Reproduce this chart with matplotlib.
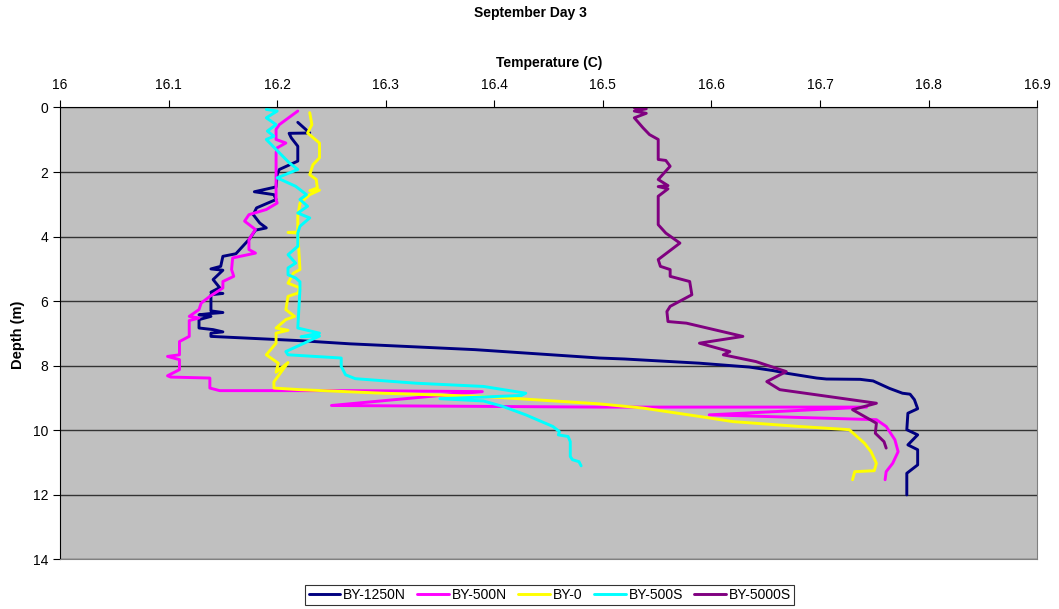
import matplotlib
matplotlib.use("Agg")
import matplotlib.pyplot as plt

plt.rcParams["font.family"] = ["Liberation Sans", "DejaVu Sans"]

# temperature (C) / depth (m) profiles per station
t_1250n = [16.219, 16.230, 16.211, 16.213, 16.219, 16.219, 16.202, 16.200, 16.199, 16.179,
           16.197, 16.199, 16.181, 16.178, 16.184, 16.190, 16.180, 16.174, 16.162, 16.150,
           16.148, 16.139, 16.150, 16.141, 16.147, 16.139, 16.150, 16.139, 16.139, 16.150,
           16.139, 16.128, 16.139, 16.128, 16.128, 16.141, 16.150, 16.139, 16.139, 16.220,
           16.267, 16.382, 16.497, 16.520, 16.589, 16.635, 16.657, 16.669, 16.697, 16.706,
           16.737, 16.749, 16.764, 16.776, 16.783, 16.787, 16.790, 16.781, 16.780, 16.790,
           16.781, 16.790, 16.790, 16.780, 16.780]
d_1250n = [0.46, 0.79, 0.80, 0.94, 1.20, 1.66, 1.92, 2.08, 2.46, 2.61,
           2.70, 2.85, 3.11, 3.32, 3.58, 3.73, 3.80, 4.09, 4.53, 4.61,
           4.92, 5.00, 5.04, 5.33, 5.58, 5.72, 5.76, 5.80, 6.30, 6.35,
           6.38, 6.42, 6.47, 6.57, 6.83, 6.88, 6.95, 6.99, 7.09, 7.22,
           7.32, 7.50, 7.76, 7.79, 7.92, 8.04, 8.15, 8.23, 8.38, 8.41,
           8.42, 8.47, 8.70, 8.85, 8.88, 9.05, 9.33, 9.47, 9.98, 10.14,
           10.45, 10.60, 11.07, 11.33, 12.00]

t_500n = [16.219, 16.202, 16.199, 16.199, 16.208, 16.200, 16.199, 16.199, 16.200, 16.190,
          16.174, 16.170, 16.180, 16.174, 16.174, 16.180, 16.159, 16.158, 16.160, 16.150,
          16.150, 16.138, 16.130, 16.128, 16.119, 16.128, 16.119, 16.119, 16.119, 16.110,
          16.110, 16.099, 16.110, 16.110, 16.099, 16.102, 16.138, 16.138, 16.147, 16.267,
          16.389, 16.250, 16.497, 16.743, 16.598, 16.752, 16.761, 16.769, 16.772, 16.767,
          16.761, 16.760]
d_500n = [0.11, 0.53, 0.68, 0.99, 1.10, 1.25, 1.40, 2.85, 2.96, 3.16,
          3.32, 3.52, 3.78, 4.09, 4.40, 4.51, 4.66, 5.02, 5.23, 5.39,
          5.59, 5.85, 6.06, 6.26, 6.47, 6.52, 6.60, 6.94, 7.09, 7.25,
          7.66, 7.71, 7.81, 8.12, 8.31, 8.35, 8.38, 8.69, 8.77, 8.77,
          8.80, 9.23, 9.28, 9.28, 9.52, 9.67, 9.88, 10.29, 10.66, 11.02,
          11.28, 11.53]

t_0 = [16.230, 16.232, 16.228, 16.239, 16.239, 16.233, 16.230, 16.236, 16.237, 16.230,
       16.239, 16.230, 16.221, 16.219, 16.219, 16.210, 16.219, 16.221, 16.215, 16.210,
       16.221, 16.219, 16.210, 16.208, 16.216, 16.208, 16.199, 16.210, 16.199, 16.199,
       16.190, 16.201, 16.199, 16.210, 16.197, 16.197, 16.221, 16.297, 16.390, 16.497,
       16.537, 16.589, 16.620, 16.681, 16.727, 16.741, 16.747, 16.752, 16.750, 16.732,
       16.730]
d_0 = [0.16, 0.53, 0.79, 1.10, 1.56, 1.77, 2.08, 2.23, 2.49, 2.58,
       2.56, 2.70, 2.96, 3.37, 3.86, 3.87, 3.89, 5.02, 5.13, 5.44,
       5.59, 5.75, 5.85, 6.26, 6.47, 6.57, 6.83, 6.90, 6.99, 7.30,
       7.66, 7.92, 8.20, 7.90, 8.50, 8.69, 8.74, 8.85, 8.95, 9.18,
       9.31, 9.57, 9.73, 9.88, 9.98, 10.40, 10.66, 11.02, 11.25, 11.28,
       11.53]

t_500s = [16.190, 16.200, 16.190, 16.199, 16.191, 16.197, 16.190, 16.199, 16.211, 16.219,
          16.200, 16.217, 16.227, 16.221, 16.228, 16.219, 16.230, 16.221, 16.219, 16.219,
          16.210, 16.217, 16.210, 16.210, 16.217, 16.221, 16.221, 16.219, 16.239, 16.222,
          16.239, 16.208, 16.210, 16.259, 16.259, 16.263, 16.272, 16.328, 16.390, 16.429,
          16.425, 16.350, 16.390, 16.408, 16.429, 16.454, 16.460, 16.459, 16.468, 16.470,
          16.470, 16.472, 16.478, 16.480]
d_500s = [0.06, 0.11, 0.32, 0.53, 0.73, 0.89, 0.99, 1.30, 1.71, 1.92,
          2.18, 2.44, 2.70, 2.85, 3.06, 3.27, 3.42, 3.68, 3.89, 4.30,
          4.56, 4.82, 4.97, 5.18, 5.28, 5.40, 5.64, 6.83, 6.99, 7.10,
          7.08, 7.56, 7.66, 7.76, 8.02, 8.28, 8.40, 8.54, 8.64, 8.85,
          8.92, 9.02, 9.09, 9.26, 9.52, 9.88, 10.04, 10.14, 10.19, 10.35,
          10.81, 10.91, 10.97, 11.10]

t_5000s = [16.529, 16.540, 16.529, 16.540, 16.529, 16.537, 16.543, 16.551, 16.551, 16.558,
           16.562, 16.551, 16.560, 16.551, 16.560, 16.551, 16.551, 16.558, 16.571, 16.551,
           16.553, 16.562, 16.562, 16.580, 16.582, 16.562, 16.559, 16.560, 16.577, 16.629,
           16.589, 16.617, 16.611, 16.641, 16.669, 16.651, 16.663, 16.752, 16.730, 16.752,
           16.751, 16.759, 16.761]
d_5000s = [0.01, 0.04, 0.11, 0.18, 0.32, 0.63, 0.84, 0.99, 1.61, 1.64,
           1.82, 2.23, 2.42, 2.45, 2.52, 2.75, 3.63, 3.89, 4.20, 4.71,
           4.92, 5.02, 5.23, 5.39, 5.80, 6.16, 6.32, 6.63, 6.68, 7.09,
           7.30, 7.56, 7.66, 7.87, 8.18, 8.49, 8.74, 9.16, 9.36, 9.78,
           10.09, 10.35, 10.55]

fig = plt.figure(figsize=(10.59, 6.09), dpi=100)
ax = fig.add_axes([0.0567, 0.0813, 0.9226, 0.7422])
ax.set_facecolor("#c0c0c0")

style = dict(lw=2.1, solid_joinstyle="round", solid_capstyle="round")
ax.plot(t_1250n, d_1250n, color="#000080", label="BY-1250N", **style)
ax.plot(t_500n, d_500n, color="#ff00ff", label="BY-500N", **style)
ax.plot(t_0, d_0, color="#ffff00", label="BY-0", **style)
ax.plot(t_500s, d_500s, color="#00ffff", label="BY-500S", **style)
ax.plot(t_5000s, d_5000s, color="#800080", label="BY-5000S", **style)

ax.set_xlim(16, 16.9)
ax.set_ylim(14, 0)
ax.set_xticks([16 + 0.1 * i for i in range(10)])
ax.set_xticklabels(["16", "16.1", "16.2", "16.3", "16.4", "16.5", "16.6", "16.7", "16.8", "16.9"])
ax.set_yticks(range(0, 15, 2))
ax.xaxis.tick_top()
ax.tick_params(axis="both", labelsize=10, length=5, width=0.8, color="black")
ax.tick_params(axis="x", pad=6)
ax.grid(axis="y", color="#333333", lw=1)
ax.set_axisbelow(True)

for side in ("left", "top"):
    ax.spines[side].set_color("black")
ax.spines["right"].set_color("#808080")
ax.spines["bottom"].set_color("#808080")

fig.text(0.5005, 0.978, "September Day 3", ha="center", va="center",
         fontsize=10, fontweight="bold")
fig.text(0.519, 0.896, "Temperature (C)", ha="center", va="center",
         fontsize=10, fontweight="bold")
fig.text(0.017, 0.45, "Depth (m)", ha="center", va="center", rotation=90,
         fontsize=10.5, fontweight="bold")

leg = fig.legend(loc="center", bbox_to_anchor=(0.519, 0.023), ncol=5, fontsize=10,
                 frameon=True, fancybox=False, edgecolor="black", handlelength=2.3,
                 handletextpad=0.2, columnspacing=0.8, borderpad=0.25, borderaxespad=0)
leg.get_frame().set_linewidth(0.8)

fig.savefig("out.png", dpi=100)
